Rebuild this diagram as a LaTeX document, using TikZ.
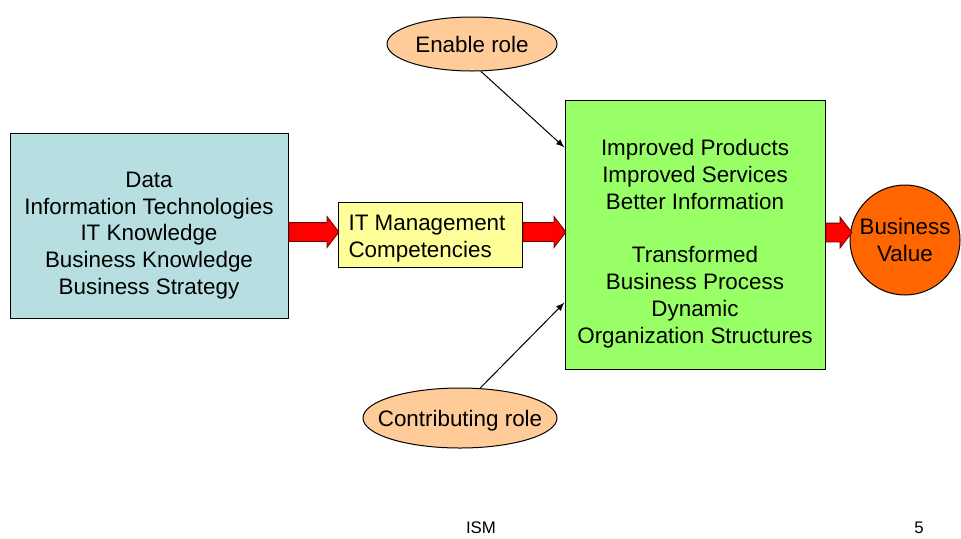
\documentclass[tikz,border=0pt]{standalone}
\usepackage{fontspec}
\setmainfont{Liberation Sans}
\usetikzlibrary{shapes, arrows, positioning, calc}
\definecolor{databox}{RGB}{183,223,225}
\definecolor{itmyellow}{RGB}{255,255,153}
\definecolor{outgreen}{RGB}{153,255,102}
\definecolor{valueorange}{RGB}{255,102,0}
\definecolor{rolepeach}{RGB}{255,204,153}
\definecolor{arrowdark}{RGB}{110,0,0}
\newcommand{\slidefont}{\fontsize{11.2}{13.4}\selectfont}
\newcommand{\footfont}{\fontsize{8.4}{10}\selectfont}

\begin{document}
\begin{tikzpicture}[x=0.5pt, y=0.5pt,
    box/.style={draw, line width=0.5pt, inner sep=0pt},
    boxtext/.style={align=center, font=\slidefont, inner sep=0pt},
    role/.style={ellipse, draw, fill=rolepeach, line width=0.5pt, inner sep=0pt},
    fatarrow/.style={single arrow, draw=arrowdark, fill=red, line width=0.4pt, inner xsep=0pt, inner ysep=4.5pt,
        minimum width=15pt, single arrow head extend=3pt, single arrow tip angle=105, anchor=west},
    roleline/.style={-latex, line width=0.5pt}]
\useasboundingbox (0,0) rectangle (961,538);
\node[box, fill=databox, minimum width=139pt, minimum height=92.5pt,
    label={[boxtext, yshift=-5pt]center:Data\\Information Technologies\\IT Knowledge\\Business Knowledge\\Business Strategy}] (data) at (149,312.5) {};
\node[box, fill=itmyellow, minimum width=92pt, minimum height=32.5pt,
    label={[boxtext, align=left, yshift=-2pt, xshift=-1.5pt]center:IT Management\\Competencies}] (itm) at (430,303.5) {};
\node[box, fill=outgreen, minimum width=130pt, minimum height=134.5pt,
    label={[boxtext, yshift=-4.5pt]center:Improved Products\\Improved Services\\Better Information\\\mbox{}\\Transformed\\Business Process\\Dynamic\\Organization Structures}] (outcomes) at (695,303.5) {};
\node[circle, draw, line width=0.5pt, fill=valueorange, minimum size=55pt, inner sep=0pt, align=center, font=\slidefont] (value) at (905,298) {Business\\Value};
\node[role, minimum width=85pt, minimum height=27pt, label={[boxtext]center:Enable role}] (enable) at (472,494) {};
\node[role, minimum width=97pt, minimum height=30pt, label={[boxtext, yshift=-1.5pt]center:Contributing role}] (contrib) at (460,120) {};
\node[fatarrow, minimum height=25pt, right=0pt of data, yshift=-3.25pt] (datatoitm) {};
\node[fatarrow, minimum height=21.5pt, right=0pt of itm, yshift=1.25pt] (itmtoout) {};
\node[fatarrow, minimum height=13pt, right=0pt of outcomes, yshift=1pt] (outtovalue) {};
\coordinate (enabletip) at ($(outcomes.north west)+(0,-48)$);
\coordinate (contribtip) at ($(outcomes.south west)+(0,67)$);
\draw[roleline] (enable.-72) -- (enabletip);
\draw[roleline] (contrib.56) -- (contribtip);
\node[font=\footfont] (ism) at (481,10) {ISM};
\node[font=\footfont] (page) at (919,10) {5};
\end{tikzpicture}
\end{document}
